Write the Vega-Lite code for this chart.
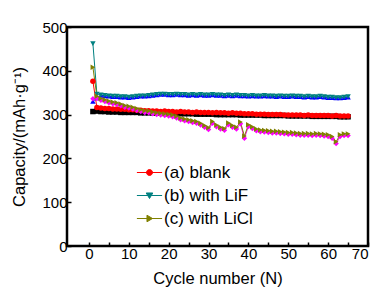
{
  "$schema": "https://vega.github.io/schema/vega-lite/v6.json",
  "width": 301,
  "height": 219,
  "autosize": "none",
  "padding": {"left": 67, "top": 27, "right": 16, "bottom": 53},
  "config": {
    "view": {"stroke": "black", "strokeWidth": 2.5},
    "font": "Liberation Sans",
    "axis": {"domain": false, "grid": false, "tickColor": "black", "tickWidth": 1.5, "tickSize": -4, "labelColor": "black", "labelFontSize": 15, "titleColor": "black", "titleFontSize": 16.5, "titleFontWeight": "normal", "labelPadding": 4}
  },
  "data": {"values": [
    {"x":1,"a0":307,"a1":376,"b0":330,"b1":462,"c0":336,"c1":408},
    {"x":2,"a0":308,"a1":316,"b0":338,"b1":347,"c0":337,"c1":342},
    {"x":3,"a0":307,"a1":315,"b0":344,"b1":345,"c0":333,"c1":337},
    {"x":4,"a0":307,"a1":314,"b0":343,"b1":344,"c0":330,"c1":334},
    {"x":5,"a0":306,"a1":314,"b0":342,"b1":343,"c0":327,"c1":331},
    {"x":6,"a0":306,"a1":313,"b0":341,"b1":342,"c0":325,"c1":329},
    {"x":7,"a0":306,"a1":313,"b0":341,"b1":342,"c0":323,"c1":327},
    {"x":8,"a0":305,"a1":312,"b0":340,"b1":341,"c0":320,"c1":324},
    {"x":9,"a0":305,"a1":312,"b0":340,"b1":341,"c0":317,"c1":321},
    {"x":10,"a0":305,"a1":311,"b0":339,"b1":340,"c0":315,"c1":319},
    {"x":11,"a0":305,"a1":311,"b0":340,"b1":341,"c0":313,"c1":317},
    {"x":12,"a0":305,"a1":310,"b0":341,"b1":342,"c0":310,"c1":314},
    {"x":13,"a0":304,"a1":310,"b0":342,"b1":343,"c0":307,"c1":311},
    {"x":14,"a0":304,"a1":309,"b0":342,"b1":343,"c0":305,"c1":309},
    {"x":15,"a0":304,"a1":309,"b0":343,"b1":344,"c0":304,"c1":308},
    {"x":16,"a0":304,"a1":308,"b0":344,"b1":345,"c0":302,"c1":306},
    {"x":17,"a0":303,"a1":308,"b0":345,"b1":346,"c0":300,"c1":304},
    {"x":18,"a0":303,"a1":307,"b0":346,"b1":347,"c0":299,"c1":303},
    {"x":19,"a0":303,"a1":308,"b0":346,"b1":347,"c0":298,"c1":302},
    {"x":20,"a0":303,"a1":307,"b0":345,"b1":346,"c0":297,"c1":301},
    {"x":21,"a0":303,"a1":307,"b0":345,"b1":346,"c0":295,"c1":299},
    {"x":22,"a0":302,"a1":306,"b0":346,"b1":347,"c0":292,"c1":296},
    {"x":23,"a0":302,"a1":307,"b0":345,"b1":346,"c0":288,"c1":292},
    {"x":24,"a0":302,"a1":306,"b0":345,"b1":346,"c0":286,"c1":290},
    {"x":25,"a0":302,"a1":306,"b0":344,"b1":345,"c0":284,"c1":288},
    {"x":26,"a0":302,"a1":305,"b0":345,"b1":346,"c0":282,"c1":286},
    {"x":27,"a0":301,"a1":306,"b0":344,"b1":345,"c0":280,"c1":284},
    {"x":28,"a0":301,"a1":305,"b0":345,"b1":346,"c0":276,"c1":280},
    {"x":29,"a0":301,"a1":305,"b0":344,"b1":345,"c0":271,"c1":275},
    {"x":30,"a0":301,"a1":305,"b0":344,"b1":345,"c0":266,"c1":270},
    {"x":31,"a0":301,"a1":304,"b0":345,"b1":346,"c0":280,"c1":284},
    {"x":32,"a0":300,"a1":305,"b0":344,"b1":345,"c0":272,"c1":276},
    {"x":33,"a0":300,"a1":304,"b0":344,"b1":345,"c0":267,"c1":271},
    {"x":34,"a0":300,"a1":304,"b0":343,"b1":344,"c0":264,"c1":268},
    {"x":35,"a0":300,"a1":303,"b0":344,"b1":345,"c0":277,"c1":281},
    {"x":36,"a0":300,"a1":304,"b0":343,"b1":344,"c0":271,"c1":275},
    {"x":37,"a0":300,"a1":303,"b0":344,"b1":345,"c0":267,"c1":271},
    {"x":38,"a0":299,"a1":303,"b0":343,"b1":344,"c0":279,"c1":283},
    {"x":39,"a0":299,"a1":302,"b0":343,"b1":344,"c0":246,"c1":251},
    {"x":40,"a0":299,"a1":302,"b0":342,"b1":343,"c0":273,"c1":277},
    {"x":41,"a0":299,"a1":302,"b0":343,"b1":344,"c0":268,"c1":272},
    {"x":42,"a0":299,"a1":301,"b0":342,"b1":343,"c0":263,"c1":267},
    {"x":43,"a0":299,"a1":301,"b0":342,"b1":343,"c0":261,"c1":265},
    {"x":44,"a0":298,"a1":301,"b0":343,"b1":344,"c0":260,"c1":264},
    {"x":45,"a0":298,"a1":300,"b0":342,"b1":343,"c0":259,"c1":263},
    {"x":46,"a0":298,"a1":300,"b0":342,"b1":343,"c0":258,"c1":262},
    {"x":47,"a0":298,"a1":300,"b0":341,"b1":342,"c0":258,"c1":262},
    {"x":48,"a0":298,"a1":300,"b0":342,"b1":343,"c0":257,"c1":261},
    {"x":49,"a0":298,"a1":299,"b0":341,"b1":342,"c0":256,"c1":260},
    {"x":50,"a0":297,"a1":299,"b0":341,"b1":342,"c0":255,"c1":259},
    {"x":51,"a0":297,"a1":299,"b0":342,"b1":343,"c0":255,"c1":259},
    {"x":52,"a0":297,"a1":299,"b0":341,"b1":342,"c0":254,"c1":258},
    {"x":53,"a0":297,"a1":299,"b0":341,"b1":342,"c0":253,"c1":257},
    {"x":54,"a0":297,"a1":298,"b0":340,"b1":341,"c0":253,"c1":257},
    {"x":55,"a0":297,"a1":299,"b0":341,"b1":342,"c0":253,"c1":257},
    {"x":56,"a0":296,"a1":298,"b0":340,"b1":341,"c0":252,"c1":256},
    {"x":57,"a0":296,"a1":298,"b0":340,"b1":341,"c0":253,"c1":257},
    {"x":58,"a0":296,"a1":298,"b0":341,"b1":342,"c0":252,"c1":256},
    {"x":59,"a0":296,"a1":298,"b0":340,"b1":341,"c0":251,"c1":255},
    {"x":60,"a0":296,"a1":298,"b0":339,"b1":340,"c0":250,"c1":254},
    {"x":61,"a0":296,"a1":297,"b0":339,"b1":340,"c0":246,"c1":250},
    {"x":62,"a0":296,"a1":298,"b0":338,"b1":339,"c0":234,"c1":238},
    {"x":63,"a0":295,"a1":297,"b0":338,"b1":339,"c0":250,"c1":254},
    {"x":64,"a0":295,"a1":297,"b0":339,"b1":340,"c0":252,"c1":256},
    {"x":65,"a0":295,"a1":297,"b0":340,"b1":341,"c0":252,"c1":256}
  ]},
  "transform": [{"fold": ["a0", "a1", "b0", "b1", "c0", "c1"], "as": ["s", "cap"]}],
  "encoding": {
    "x": {"field": "x", "type": "quantitative", "scale": {"domain": [-5.5, 70], "nice": false, "zero": false},
      "axis": {"values": [0,5,10,15,20,25,30,35,40,45,50,55,60,65,70], "labelExpr": "datum.value % 10 === 0 ? datum.label : ''", "title": "Cycle number (N)", "titlePadding": 9}},
    "y": {"field": "cap", "type": "quantitative", "scale": {"domain": [0, 500], "nice": false},
      "axis": {"values": [0,100,200,300,400,500], "title": "Capacity/(mAh·g⁻¹)", "titlePadding": 14}},
    "color": {"field": "s", "type": "nominal",
      "scale": {"domain": ["a0","a1","b0","b1","c0","c1"], "range": ["#000000","#ff0000","#0000ff","#008080","#ff00ff","#808000"]},
      "legend": {"values": ["a1","b1","c1"], "orient": "none", "legendX": 74, "legendY": 137, "title": null, "padding": 0,
        "symbolSize": 144, "labelFontSize": 17, "labelColor": "black", "labelOffset": 6, "rowPadding": 5, "symbolStrokeWidth": 1,
        "labelExpr": "{'a1':'(a) blank','b1':'(b) with LiF','c1':'(c) with LiCl'}[datum.label]",
        "encode": {"symbols": {
          "update": {
            "shape": {"signal": "datum.value === 'a1' ? 'M-2.1,0H2.1M0.5,0A0.5,0.5,0,1,1,-0.5,0A0.5,0.5,0,1,1,0.5,0Z' : datum.value === 'b1' ? 'M-2.1,0H2.1M-0.55,-0.42L0.55,-0.42L0,0.5Z' : 'M-2.1,0H2.1M-0.42,-0.55L0.5,0L-0.42,0.55Z'"},
            "stroke": {"signal": "scale('color', datum.value)"},
            "strokeWidth": {"value": 1}
          },
          "shape": {"value": {"expr": "datum.value === 'a1' ? 'M-2.1,0H2.1M0.5,0A0.5,0.5,0,1,1,-0.5,0A0.5,0.5,0,1,1,0.5,0Z' : datum.value === 'b1' ? 'M-2.1,0H2.1M-0.55,-0.42L0.55,-0.42L0,0.5Z' : 'M-2.1,0H2.1M-0.42,-0.55L0.5,0L-0.42,0.55Z'"}},
          "stroke": {"value": {"expr": "scale('color', datum.value)"}},
          "strokeWidth": {"value": 1}
        }}
      }
    }
  },
  "layer": [
    {"mark": {"type": "line", "strokeWidth": 1}, "encoding": {}},
    {"mark": {"type": "point", "filled": true, "size": 30, "opacity": 1},
     "encoding": {
       "shape": {"field": "s", "type": "nominal", "scale": {"domain": ["a1","a0","b1","b0","c1","c0"], "range": ["circle","square","triangle-down","triangle-up","triangle-right","diamond"]}, "legend": null},
       "order": {"field": "s"}
     }}
  ]
}
